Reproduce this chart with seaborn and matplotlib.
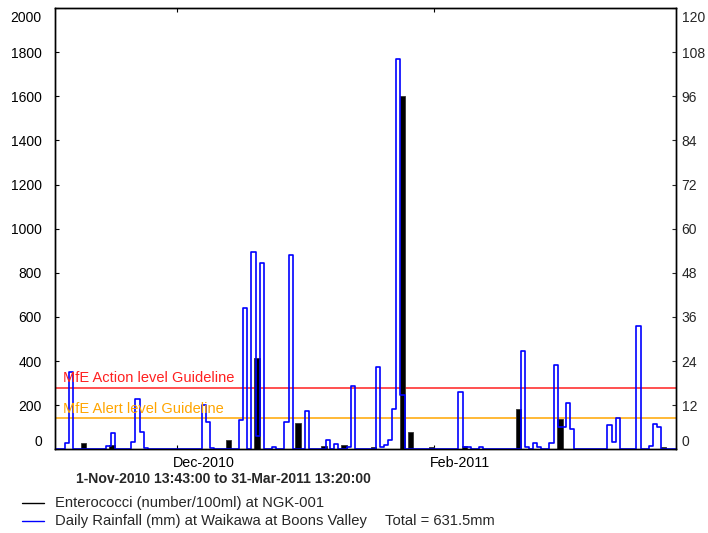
import numpy as np
import pandas as pd
import matplotlib
matplotlib.use("Agg")
import matplotlib.pyplot as plt
import matplotlib.transforms as mtransforms
from matplotlib.lines import Line2D
import seaborn as sns

# ---- data (days counted from 1-Nov-2010 00:00) ----
rain_day = [3, 4, 13, 14, 19, 20, 21, 22, 36, 37, 38,
            45, 46, 48, 49, 50, 53, 56, 57, 61, 66, 68, 71, 72,
            78, 79, 80, 81, 82, 83, 84, 98, 99, 100, 103,
            113, 114, 116, 117, 120, 121, 122, 123, 124, 125,
            134, 135, 136, 141, 144, 145, 146]
rain_mm = [1.6, 21, 1.0, 4.5, 2.1, 13.6, 4.6, 0.3, 12, 7.5, 0.4,
           7.9, 38.3, 53.7, 3.5, 50.6, 0.5, 7.5, 52.7, 10.5, 2.5, 1.5, 0.5, 17.2,
           22.5, 0.7, 1.2, 2.5, 11, 106, 14.7, 15.5, 0.7, 0.5, 0.5,
           26.6, 0.5, 1.6, 0.5, 1.6, 23, 6, 6, 12.5, 5.5,
           6.6, 2.1, 8.4, 33.5, 0.9, 7, 6]

entero_day = [7.5, 14.4, 42.5, 49.4, 59.3, 65.5, 70.4, 77.5, 84.5, 86.4,
              91.5, 99.5, 112.5, 122.6, 147.5]
entero_val = [28, 20, 42, 413, 120, 16, 21, 11, 1603, 80,
              11, 14, 181, 139, 12]

action_level = 280
alert_level = 140

left_ticks = list(range(0, 2001, 200))
right_ticks = list(range(0, 121, 12))
month_ticks = [30, 92]
month_labels = ["Dec-2010", "Feb-2011"]
t_start, t_end = 0.572, 150.556

# ---- style ----
sns.set_style("ticks")
plt.rcParams["font.family"] = ["Liberation Sans", "DejaVu Sans"]
plt.rcParams["font.size"] = 10

fig = plt.figure(figsize=(7.08, 5.33), dpi=100)
ax = fig.add_axes([55/708, 1-449.3/533, (676-55)/708, (449.3-8)/533])
ax2 = ax.twinx()

# enterococci bars (left axis)
ax.bar(entero_day, entero_val, width=1.35, color="black", edgecolor="#333333",
       linewidth=0.6, zorder=2)

# guidelines
ax.axhline(action_level, color="#ff2020", lw=1.1, zorder=1)
ax.axhline(alert_level, color="#ffa500", lw=1.1, zorder=1)

# rainfall step histogram (right axis)
edges = [t_start] + list(range(1, 151)) + [t_end]
df = pd.DataFrame({"day": [d + 0.5 for d in rain_day], "mm": rain_mm})
sns.histplot(data=df, x="day", weights="mm", bins=edges, element="step",
             fill=False, color="#0000ff", linewidth=1.2, ax=ax2)

ax.set_xlim(t_start, t_end)
ax2.set_xlim(t_start, t_end)
ax.set_ylim(0, 2000)
ax2.set_ylim(0, 120)
ax.set_yticks(left_ticks)
ax2.set_yticks(right_ticks)
ax.set_xticks(month_ticks)
ax.set_xticklabels(month_labels, ha="left", fontsize=10.3)
for a in (ax, ax2):
    a.set_xlabel("")
    a.set_ylabel("")
    for s in a.spines.values():
        s.set_visible(True)
        s.set_linewidth(1.0)
        s.set_color("black")
ax.tick_params(axis="both", direction="in", length=3, width=0.8,
               top=True, bottom=True, colors="black")
ax.tick_params(axis="y", pad=9.5, labelsize=10)
ax.tick_params(axis="x", pad=5)
ax2.tick_params(axis="y", direction="in", length=3, width=0.8, pad=4,
                labelsize=10)

# nudge x labels slightly left of their tick
for t in ax.xaxis.get_major_ticks():
    lab = t.label1
    lab.set_transform(lab.get_transform() +
                      mtransforms.ScaledTranslation(-4/100, 0, fig.dpi_scale_trans))

# shift the end labels inward
for a in (ax, ax2):
    ticks = a.yaxis.get_major_ticks()
    lab_top = ticks[-1].label1 if a is ax else ticks[-1].label2
    lab_bot = ticks[0].label1 if a is ax else ticks[0].label2
    lab_top.set_transform(lab_top.get_transform() +
                          mtransforms.ScaledTranslation(0, -8/100, fig.dpi_scale_trans))
    lab_bot.set_transform(lab_bot.get_transform() +
                          mtransforms.ScaledTranslation(0, 9/100, fig.dpi_scale_trans))

# guideline labels
fig.text(63/708, 1-378/533, "MfE Action level Guideline", color="#ff2020",
         fontsize=10.5, va="center", ha="left")
fig.text(63/708, 1-409/533, "MfE Alert level Guideline", color="#ffa500",
         fontsize=10.5, va="center", ha="left")

# period text
fig.text(223.5/708, 1-479/533, "1-Nov-2010 13:43:00 to 31-Mar-2011 13:20:00",
         fontsize=10.1, fontweight="bold", ha="center", va="center")

# legend
fig.add_artist(Line2D([22/708, 44/708], [1-503/533]*2, color="black", lw=1.0))
fig.add_artist(Line2D([22/708, 44/708], [1-521/533]*2, color="#0000ff", lw=1.0))
fig.text(55/708, 1-503/533, "Enterococci (number/100ml) at NGK-001",
         fontsize=10.6, va="center", ha="left")
fig.text(55/708, 1-521/533, "Daily Rainfall (mm) at Waikawa at Boons Valley",
         fontsize=10.6, va="center", ha="left")
fig.text(385/708, 1-521/533, "Total = 631.5mm",
         fontsize=10.6, va="center", ha="left")

fig.savefig("out.png", dpi=100)
